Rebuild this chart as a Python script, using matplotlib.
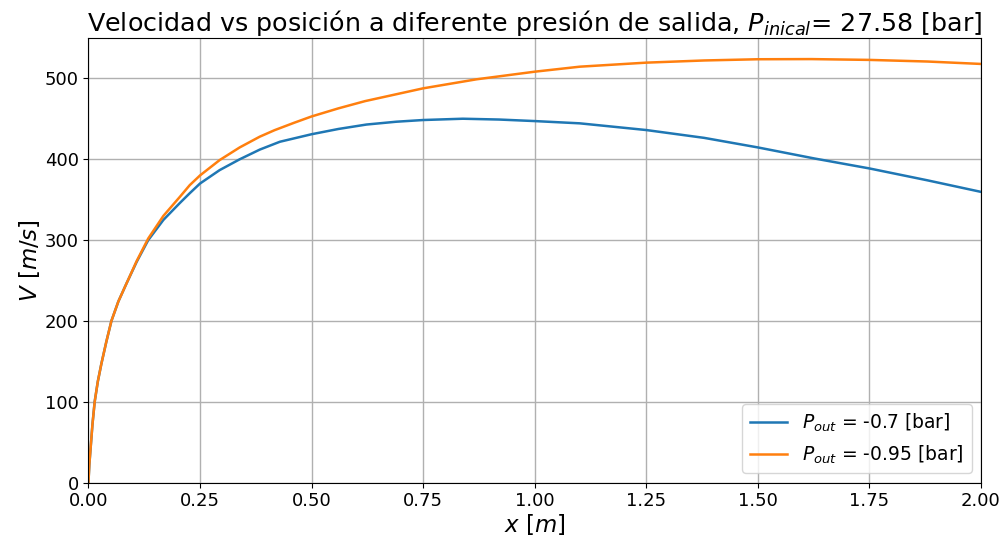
import matplotlib
matplotlib.use("Agg")
import matplotlib.pyplot as plt

# velocidad, P_out = -0.7 bar
x_07 = [0.0, 0.002, 0.0045, 0.009, 0.014, 0.021, 0.029, 0.04, 0.0515, 0.067, 0.085, 0.108,
        0.134, 0.168, 0.205, 0.227, 0.25, 0.294, 0.339, 0.384, 0.429, 0.5, 0.56,
        0.623, 0.69, 0.75, 0.839, 0.92, 1.0, 1.101, 1.25, 1.38, 1.5, 1.627, 1.75, 1.88, 2.0]
v_07 = [0.0, 22, 40, 72, 100, 125, 147, 174, 200, 224, 246, 273,
        300, 325, 346, 358, 370, 386.6, 400, 412, 421.7, 431, 437.5,
        443, 446.5, 448.6, 450.2, 449.2, 447.3, 444.5, 436.2, 426.5, 414.7, 401, 388.7, 374, 359.7]

# P_out = -0.95 bar
x_095 = [0.0, 0.002, 0.0045, 0.009, 0.014, 0.021, 0.029, 0.04, 0.0515, 0.067, 0.085, 0.108,
         0.134, 0.168, 0.205, 0.227, 0.25, 0.294, 0.339, 0.384, 0.417, 0.46, 0.5, 0.56, 0.62,
         0.75, 0.87, 1.0, 1.101, 1.25, 1.38, 1.5, 1.62, 1.75, 1.88, 2.0]
v_095 = [0.0, 22, 40, 72, 100, 125, 147, 174, 200, 224, 246, 274,
         302, 330, 353.6, 368, 380, 399, 414.7, 428, 436, 445, 453, 463, 472,
         487.8, 499, 508.4, 514.6, 519.6, 522.3, 523.8, 524, 523, 521, 518]

fig, ax = plt.subplots(figsize=(10.05, 5.44), dpi=100)
fig.subplots_adjust(left=0.088, right=0.976, top=0.930, bottom=0.113)

ax.plot(x_07, v_07, label=r'$P_{out}$ = -0.7 [bar]', color='#1f77b4', lw=1.8)
ax.plot(x_095, v_095, label=r'$P_{out}$ = -0.95 [bar]', color='#ff7f0e', lw=1.8)

ax.set_xlim(0, 2)
ax.set_ylim(0, 550)
ax.set_xticks([0, 0.25, 0.5, 0.75, 1.0, 1.25, 1.5, 1.75, 2.0])
ax.set_yticks([0, 100, 200, 300, 400, 500])
ax.grid(True, color='#b0b0b0', lw=1.0)
ax.tick_params(labelsize=13)
ax.set_xlabel(r'$x\ [m]$', fontsize=16.5, labelpad=1)
ax.set_ylabel(r'$V\ [m/s]$', fontsize=16.5, labelpad=2)
ax.set_title(r'Velocidad vs posición a diferente presión de salida, $P_{inical}$= 27.58 [bar]',
             fontsize=18.3, pad=5)
ax.legend(loc='lower right', fontsize=13.5)

fig.savefig('out.png', dpi=100)
